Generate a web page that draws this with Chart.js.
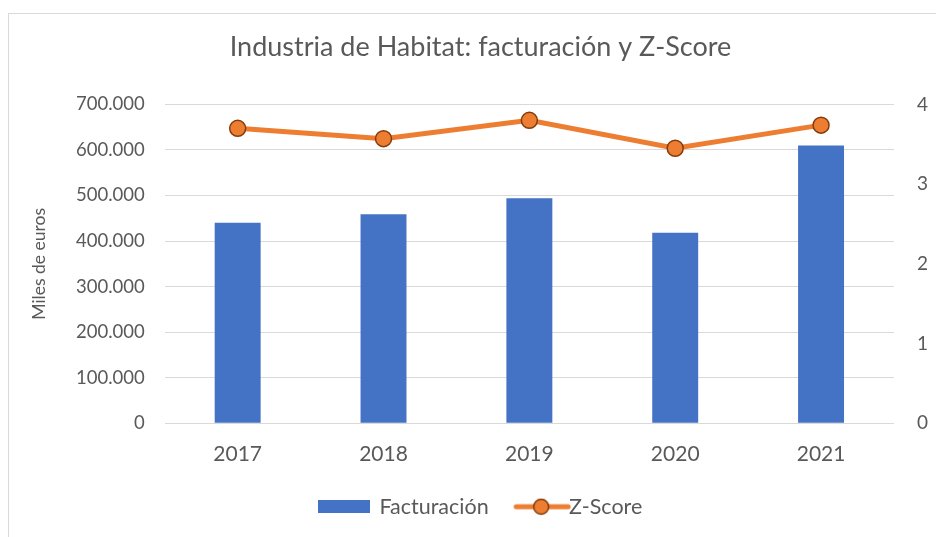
<!DOCTYPE html>
<html lang="es">
<head>
  <meta charset="UTF-8" />
  <title>Industria de Habitat</title>
  <script src="https://cdn.jsdelivr.net/npm/chart.js@4.4.0/dist/chart.umd.min.js"></script>
  <style>
    body   { margin:0; background:#fff; font-family:Lato, sans-serif; overflow:hidden; }
    .frame { position:absolute; left:8px; top:13px; width:940px; height:540px; border:1px solid #d9d9d9; }
    #chart { display:block; }
  </style>
</head>
<body>
  <div class="frame">
    <canvas id="chart" width="927" height="523"></canvas>
  </div>

  <script>
    /* data */
    const years       = ['2017', '2018', '2019', '2020', '2021'];
    const facturacion = [440000, 459000, 494000, 418000, 610000];
    const zScore      = [3.70, 3.57, 3.80, 3.45, 3.74];

    const grey   = '#595959';
    const blue   = '#4472C4';
    const orange = '#ED7D31';
    const brown  = '#843C0C';

    const fmt = v => String(v).replace(/\B(?=(\d{3})+(?!\d))/g, '.');

    /* legend icons */
    function barIcon(){
      const c = document.createElement('canvas');
      c.width = 52; c.height = 13;
      const g = c.getContext('2d');
      g.fillStyle = blue; g.fillRect(0, 0, 52, 13);
      return c;
    }
    function lineIcon(){
      // wider canvas, drawn to the right so it sits close to the text
      const c = document.createElement('canvas');
      c.width = 76; c.height = 18;
      const g = c.getContext('2d');
      g.strokeStyle = orange; g.lineWidth = 5; g.lineCap = 'round';
      g.beginPath(); g.moveTo(21, 9); g.lineTo(73, 9); g.stroke();
      g.beginPath(); g.arc(46, 9, 7.5, 0, Math.PI * 2);
      g.fillStyle = orange; g.fill();
      g.lineWidth = 1.5; g.strokeStyle = brown; g.stroke();
      return c;
    }
    const icons = [barIcon(), lineIcon()];

    new Chart(document.getElementById('chart'), {
      data:{
        labels: years,
        datasets:[
          { type:'bar', label:'Facturación', data:facturacion, backgroundColor:blue,
            barPercentage:0.315, categoryPercentage:1, yAxisID:'y', order:1 },
          { type:'line', label:'Z-Score', data:zScore, borderColor:orange, borderWidth:5,
            pointRadius:8, pointHoverRadius:8, pointBackgroundColor:orange,
            pointBorderColor:brown, pointBorderWidth:1.5, tension:0, yAxisID:'y1', order:0 }
        ]
      },
      options:{
        responsive:false,
        devicePixelRatio:1,
        animation:false,
        layout:{ autoPadding:false, padding:{ left:16, right:0, top:0, bottom:9.5 } },
        plugins:{
          title:{ display:true, text:'Industria de Habitat: facturación y Z-Score',
                  color:grey, font:{ family:'Lato', size:27, weight:'normal' },
                  padding:{ top:17, bottom:41 } },
          legend:{
            position:'bottom',
            labels:{
              usePointStyle:true, pointStyleWidth:50, padding:19.5,
              color:grey, font:{ family:'Lato', size:21.5 },
              generateLabels: chart => chart.data.datasets.map((d, i) => ({
                text:d.label, pointStyle:icons[i], datasetIndex:i,
                fontColor:grey, lineWidth:0, hidden:false
              }))
            }
          },
          tooltip:{ enabled:false }
        },
        scales:{
          x:{
            grid:{ display:false }, border:{ display:false },
            ticks:{ color:grey, font:{ family:'Lato', size:21 }, padding:10 }
          },
          y:{
            position:'left', min:0, max:700000,
            ticks:{ stepSize:100000, callback:v => fmt(v), color:grey,
                    font:{ family:'Lato', size:18.5 }, padding:20 },
            grid:{ color:'#d9d9d9', lineWidth:1, drawTicks:false },
            border:{ display:false },
            title:{ display:true, text:'Miles de euros', color:grey,
                    font:{ family:'Lato', size:17.5 }, padding:{ top:4, bottom:6 } }
          },
          y1:{
            position:'right', min:0, max:4,
            ticks:{ stepSize:1, color:grey, font:{ family:'Lato', size:19 }, padding:23 },
            grid:{ drawOnChartArea:false, drawTicks:false },
            border:{ display:false },
            // padding is reserved on both sides of the labels; drop the outer part
            afterFit: s => { s.width -= 15; }
          }
        }
      }
    });
  </script>
</body>
</html>
